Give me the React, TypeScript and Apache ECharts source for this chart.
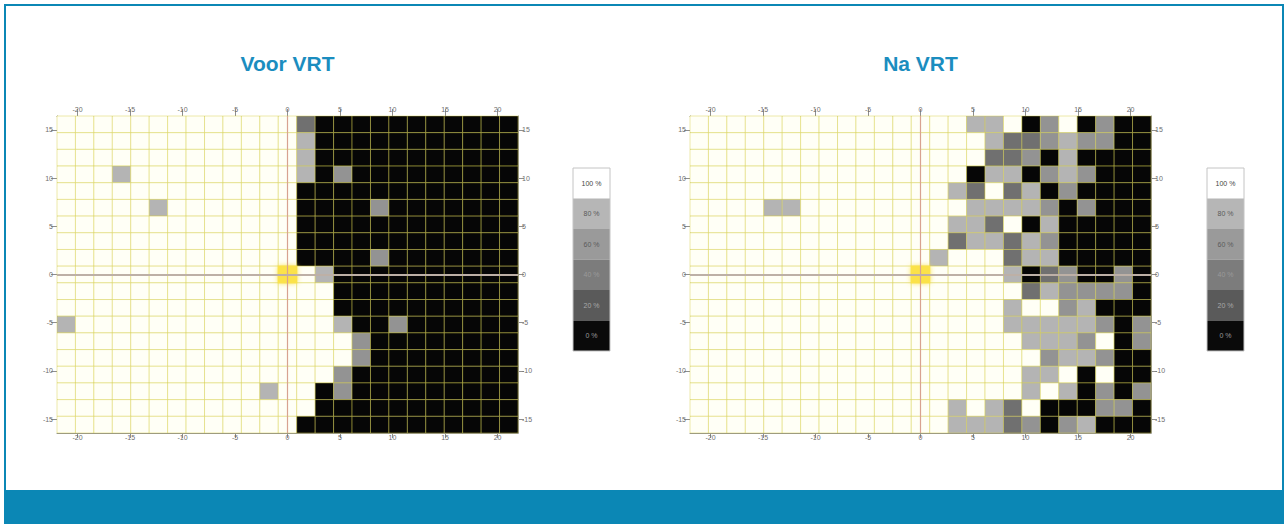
import React, { useEffect, useRef } from "react";
import * as echarts from "echarts";

// ---------- data ----------
const chartTitles = ["Voor VRT", "Na VRT"];
const xTickLabels = [-20, -15, -10, -5, 0, 5, 10, 15, 20];
const yTickLabels = [15, 10, 5, 0, -5, -10, -15];
const levels = [100, 80, 60, 40, 20, 0];
const levelLabels = ["100 %", "80 %", "60 %", "40 %", "20 %", "0 %"];
const levelColors = ["#fffff6", "#b4b4b4", "#939393", "#707070", "#4c4c4c", "#060606"];
const legendColors = ["#ffffff", "#b6b6b6", "#9a9a9a", "#7c7c7c", "#5a5a5a", "#0a0a0a"];
const legendTextColors = ["#444444", "#5a5a5a", "#5a5a5a", "#9a9a9a", "#a8a8a8", "#9a9a9a"];
const fixationCell = [12, 9]; // [column, row]

// rows top -> bottom, columns left -> right (percent sensitivity)
const voorVRT = [
  [100, 100, 100, 100, 100, 100, 100, 100, 100, 100, 100, 100, 100, 40, 0, 0, 0, 0, 0, 0, 0, 0, 0, 0, 0],
  [100, 100, 100, 100, 100, 100, 100, 100, 100, 100, 100, 100, 100, 80, 0, 0, 0, 0, 0, 0, 0, 0, 0, 0, 0],
  [100, 100, 100, 100, 100, 100, 100, 100, 100, 100, 100, 100, 100, 80, 0, 0, 0, 0, 0, 0, 0, 0, 0, 0, 0],
  [100, 100, 100, 80, 100, 100, 100, 100, 100, 100, 100, 100, 100, 80, 0, 60, 0, 0, 0, 0, 0, 0, 0, 0, 0],
  [100, 100, 100, 100, 100, 100, 100, 100, 100, 100, 100, 100, 100, 0, 0, 0, 0, 0, 0, 0, 0, 0, 0, 0, 0],
  [100, 100, 100, 100, 100, 80, 100, 100, 100, 100, 100, 100, 100, 0, 0, 0, 0, 60, 0, 0, 0, 0, 0, 0, 0],
  [100, 100, 100, 100, 100, 100, 100, 100, 100, 100, 100, 100, 100, 0, 0, 0, 0, 0, 0, 0, 0, 0, 0, 0, 0],
  [100, 100, 100, 100, 100, 100, 100, 100, 100, 100, 100, 100, 100, 0, 0, 0, 0, 0, 0, 0, 0, 0, 0, 0, 0],
  [100, 100, 100, 100, 100, 100, 100, 100, 100, 100, 100, 100, 100, 0, 0, 0, 0, 60, 0, 0, 0, 0, 0, 0, 0],
  [100, 100, 100, 100, 100, 100, 100, 100, 100, 100, 100, 100, 100, 100, 80, 0, 0, 0, 0, 0, 0, 0, 0, 0, 0],
  [100, 100, 100, 100, 100, 100, 100, 100, 100, 100, 100, 100, 100, 100, 100, 0, 0, 0, 0, 0, 0, 0, 0, 0, 0],
  [100, 100, 100, 100, 100, 100, 100, 100, 100, 100, 100, 100, 100, 100, 100, 0, 0, 0, 0, 0, 0, 0, 0, 0, 0],
  [80, 100, 100, 100, 100, 100, 100, 100, 100, 100, 100, 100, 100, 100, 100, 80, 0, 0, 60, 0, 0, 0, 0, 0, 0],
  [100, 100, 100, 100, 100, 100, 100, 100, 100, 100, 100, 100, 100, 100, 100, 100, 60, 0, 0, 0, 0, 0, 0, 0, 0],
  [100, 100, 100, 100, 100, 100, 100, 100, 100, 100, 100, 100, 100, 100, 100, 100, 60, 0, 0, 0, 0, 0, 0, 0, 0],
  [100, 100, 100, 100, 100, 100, 100, 100, 100, 100, 100, 100, 100, 100, 100, 60, 0, 0, 0, 0, 0, 0, 0, 0, 0],
  [100, 100, 100, 100, 100, 100, 100, 100, 100, 100, 100, 80, 100, 100, 0, 60, 0, 0, 0, 0, 0, 0, 0, 0, 0],
  [100, 100, 100, 100, 100, 100, 100, 100, 100, 100, 100, 100, 100, 100, 0, 0, 0, 0, 0, 0, 0, 0, 0, 0, 0],
  [100, 100, 100, 100, 100, 100, 100, 100, 100, 100, 100, 100, 100, 0, 0, 0, 0, 0, 0, 0, 0, 0, 0, 0, 0],
];

const naVRT = [
  [100, 100, 100, 100, 100, 100, 100, 100, 100, 100, 100, 100, 100, 100, 100, 80, 80, 100, 0, 60, 100, 0, 60, 0, 0],
  [100, 100, 100, 100, 100, 100, 100, 100, 100, 100, 100, 100, 100, 100, 100, 100, 80, 40, 40, 60, 80, 60, 60, 0, 0],
  [100, 100, 100, 100, 100, 100, 100, 100, 100, 100, 100, 100, 100, 100, 100, 100, 40, 40, 60, 0, 80, 0, 0, 0, 0],
  [100, 100, 100, 100, 100, 100, 100, 100, 100, 100, 100, 100, 100, 100, 100, 0, 80, 80, 0, 60, 80, 60, 0, 0, 0],
  [100, 100, 100, 100, 100, 100, 100, 100, 100, 100, 100, 100, 100, 100, 80, 40, 100, 40, 80, 0, 60, 0, 0, 0, 0],
  [100, 100, 100, 100, 80, 80, 100, 100, 100, 100, 100, 100, 100, 100, 100, 80, 80, 80, 80, 60, 0, 60, 0, 0, 0],
  [100, 100, 100, 100, 100, 100, 100, 100, 100, 100, 100, 100, 100, 100, 80, 80, 40, 100, 0, 80, 0, 0, 0, 0, 0],
  [100, 100, 100, 100, 100, 100, 100, 100, 100, 100, 100, 100, 100, 100, 40, 80, 80, 40, 80, 60, 0, 0, 0, 0, 0],
  [100, 100, 100, 100, 100, 100, 100, 100, 100, 100, 100, 100, 100, 80, 100, 100, 100, 40, 80, 80, 0, 0, 0, 0, 0],
  [100, 100, 100, 100, 100, 100, 100, 100, 100, 100, 100, 100, 100, 100, 100, 100, 100, 80, 0, 40, 60, 0, 0, 60, 0],
  [100, 100, 100, 100, 100, 100, 100, 100, 100, 100, 100, 100, 100, 100, 100, 100, 100, 100, 40, 80, 60, 60, 60, 60, 0],
  [100, 100, 100, 100, 100, 100, 100, 100, 100, 100, 100, 100, 100, 100, 100, 100, 100, 80, 100, 100, 60, 80, 0, 0, 0],
  [100, 100, 100, 100, 100, 100, 100, 100, 100, 100, 100, 100, 100, 100, 100, 100, 100, 80, 80, 80, 80, 80, 60, 0, 60],
  [100, 100, 100, 100, 100, 100, 100, 100, 100, 100, 100, 100, 100, 100, 100, 100, 100, 100, 80, 80, 80, 60, 100, 0, 60],
  [100, 100, 100, 100, 100, 100, 100, 100, 100, 100, 100, 100, 100, 100, 100, 100, 100, 100, 100, 60, 80, 80, 60, 0, 0],
  [100, 100, 100, 100, 100, 100, 100, 100, 100, 100, 100, 100, 100, 100, 100, 100, 100, 100, 80, 80, 100, 0, 100, 0, 0],
  [100, 100, 100, 100, 100, 100, 100, 100, 100, 100, 100, 100, 100, 100, 100, 100, 100, 100, 80, 100, 80, 0, 60, 0, 60],
  [100, 100, 100, 100, 100, 100, 100, 100, 100, 100, 100, 100, 100, 100, 80, 100, 80, 40, 100, 0, 0, 0, 60, 60, 0],
  [100, 100, 100, 100, 100, 100, 100, 100, 100, 100, 100, 100, 100, 100, 80, 80, 80, 40, 60, 0, 60, 80, 0, 0, 0],
];

// ---------- geometry (degrees per cell) ----------
const CELL_X = 1.756;
const CELL_Y = 1.73;
const CENTER_COL = 12;
const CENTER_ROW = 9;
const GRID_LINE = "rgba(212,206,70,0.45)";
const ACCENT = "#0b87b5";

const toData = (m: number[][]) => {
  const out: number[][] = [];
  m.forEach((row, r) =>
    row.forEach((v, c) => out.push([(c - CENTER_COL) * CELL_X, (CENTER_ROW - r) * CELL_Y, v]))
  );
  return out;
};

const colorFor = (v: number) => {
  const i = levels.indexOf(v);
  return i >= 0 ? levelColors[i] : "#fbe14e";
};

const renderCell = (_params: any, api: any) => {
  const x = api.value(0);
  const y = api.value(1);
  const v = api.value(2);
  const p0 = api.coord([x - CELL_X / 2, y + CELL_Y / 2]);
  const p1 = api.coord([x + CELL_X / 2, y - CELL_Y / 2]);
  return {
    type: "rect",
    shape: { x: p0[0], y: p0[1], width: p1[0] - p0[0], height: p1[1] - p0[1] },
    style: { fill: colorFor(v), stroke: GRID_LINE, lineWidth: 1 },
  };
};

const renderFixation = (_params: any, api: any) => {
  const x = api.value(0);
  const y = api.value(1);
  const p0 = api.coord([x - CELL_X / 2, y + CELL_Y / 2]);
  const p1 = api.coord([x + CELL_X / 2, y - CELL_Y / 2]);
  return {
    type: "rect",
    shape: { x: p0[0] - 0.5, y: p0[1] - 0.5, width: p1[0] - p0[0] + 1, height: p1[1] - p0[1] + 1 },
    style: { fill: "#fbe24a", shadowBlur: 5, shadowColor: "rgba(250,225,60,0.9)" },
  };
};

const gridBoxes = [
  { left: 57, top: 116, width: 461, height: 317 },
  { left: 690, top: 116, width: 461, height: 317 },
];
const legendX = [573, 1207];
const LEGEND_TOP = 168;
const LEGEND_BAND = 30.5;
const LEGEND_W = 37;

const axisCommon = {
  type: "value",
  axisLine: { show: true, onZero: false, lineStyle: { color: "#8e8e8e", width: 1 } },
  splitLine: { show: false },
};

const makeX = (gridIndex: number, position: string) => ({
  ...axisCommon,
  gridIndex,
  position,
  min: -(CENTER_COL + 0.5) * CELL_X,
  max: (CENTER_COL + 0.5) * CELL_X,
  axisTick: {
    show: true,
    customValues: xTickLabels,
    length: position === "top" ? 7 : 5,
    lineStyle: { color: "#8e8e8e" },
  },
  axisLabel: {
    show: true,
    customValues: xTickLabels,
    fontSize: 7,
    color: "#6e6e6e",
    margin: position === "top" ? 3 : 1,
    fontFamily: "Liberation Sans",
  },
});

const makeY = (gridIndex: number, position: string) => ({
  ...axisCommon,
  gridIndex,
  position,
  min: -(CENTER_ROW + 0.5) * CELL_Y,
  max: (CENTER_ROW + 0.5) * CELL_Y,
  axisTick: { show: true, customValues: yTickLabels, length: 6, lineStyle: { color: "#8e8e8e" } },
  axisLabel: {
    show: true,
    customValues: yTickLabels,
    fontSize: 7,
    color: "#6e6e6e",
    margin: 4,
    fontFamily: "Liberation Sans",
  },
});

export default function App() {
  const ref = useRef<HTMLDivElement>(null);

  useEffect(() => {
    if (!ref.current) return;
    const chart = echarts.init(ref.current, undefined, { renderer: "svg" });

    const matrices = [voorVRT, naVRT];
    const series: any[] = [];
    matrices.forEach((m, g) => {
      series.push({
        type: "custom",
        xAxisIndex: g * 2,
        yAxisIndex: g * 2,
        renderItem: renderCell,
        encode: { x: 0, y: 1 },
        data: toData(m),
        silent: true,
        z: 2,
      });
      series.push({
        type: "custom",
        xAxisIndex: g * 2,
        yAxisIndex: g * 2,
        renderItem: renderFixation,
        encode: { x: 0, y: 1 },
        data: [[(fixationCell[0] - CENTER_COL) * CELL_X, (CENTER_ROW - fixationCell[1]) * CELL_Y, -1]],
        silent: true,
        z: 3,
        markLine: {
          silent: true,
          symbol: ["none", "none"],
          label: { show: false },
          animation: false,
          data: [
            { xAxis: 0, lineStyle: { color: "#d8a290", width: 1.2, type: "solid" } },
            { yAxis: 0, lineStyle: { color: "#bdb0a6", width: 2, type: "solid" } },
          ],
        },
      });
    });

    const graphics: any[] = [
      {
        type: "rect",
        shape: { x: 5, y: 5, width: 1278, height: 518 },
        style: { fill: "none", stroke: ACCENT, lineWidth: 2 },
        silent: true,
      },
      {
        type: "rect",
        shape: { x: 4, y: 490, width: 1280, height: 34 },
        style: { fill: ACCENT },
        silent: true,
      },
    ];
    legendX.forEach((lx) => {
      levels.forEach((_lv, i) => {
        graphics.push({
          type: "rect",
          shape: { x: lx, y: LEGEND_TOP + i * LEGEND_BAND, width: LEGEND_W, height: LEGEND_BAND },
          style: { fill: legendColors[i] },
          silent: true,
        });
        graphics.push({
          type: "text",
          x: lx + LEGEND_W / 2,
          y: LEGEND_TOP + i * LEGEND_BAND + LEGEND_BAND / 2,
          style: {
            text: levelLabels[i],
            fill: legendTextColors[i],
            font: "7px 'Liberation Sans'",
            align: "center",
            verticalAlign: "middle",
            textAlign: "center",
            textVerticalAlign: "middle",
          },
          silent: true,
        });
      });
      graphics.push({
        type: "rect",
        shape: { x: lx, y: LEGEND_TOP, width: LEGEND_W, height: LEGEND_BAND * levels.length },
        style: { fill: "none", stroke: "#c4c4c4", lineWidth: 1 },
        silent: true,
      });
    });

    chart.setOption({
      animation: false,
      backgroundColor: "#ffffff",
      title: chartTitles.map((t, i) => ({
        text: t,
        left: gridBoxes[i].left + gridBoxes[i].width / 2,
        top: 53,
        padding: 0,
        textAlign: "center",
        textStyle: {
          color: "#1b8dbf",
          fontSize: 21,
          fontWeight: "bold",
          fontFamily: "Liberation Sans",
        },
      })),
      grid: gridBoxes.map((b) => ({ ...b, containLabel: false, show: false })),
      xAxis: [makeX(0, "bottom"), makeX(0, "top"), makeX(1, "bottom"), makeX(1, "top")],
      yAxis: [makeY(0, "left"), makeY(0, "right"), makeY(1, "left"), makeY(1, "right")],
      series,
      graphic: graphics,
    });

    return () => chart.dispose();
  }, []);

  return (
    <div
      ref={ref}
      style={{ position: "absolute", left: 0, top: 0, width: 1288, height: 524 }}
    />
  );
}
